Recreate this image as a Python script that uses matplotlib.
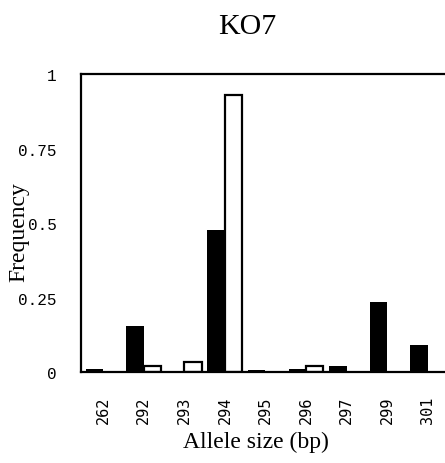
import matplotlib
matplotlib.use("Agg")
import matplotlib.pyplot as plt
import numpy as np

alleles = ["262", "292", "293", "294", "295", "296", "297", "299", "301"]
black_freq = [0.01, 0.155, 0.0, 0.476, 0.008, 0.01, 0.02, 0.234, 0.092]
white_freq = [0.0, 0.02, 0.035, 0.93, 0.0, 0.02, 0.0, 0.0, 0.0]
y_ticks = [0, 0.25, 0.5, 0.75, 1]
y_tick_labels = ["0", "0.25", "0.5", "0.75", "1"]

serif = "Liberation Serif"

fig = plt.figure(figsize=(4.45, 4.64), dpi=100)
ax = fig.add_axes([0.182, 0.196, 0.829, 0.642])

x = np.arange(len(alleles))
w = 0.43
ax.bar(x - w / 2, black_freq, width=w, color="black", edgecolor="black", linewidth=0)
white_x = [xi + w / 2 for xi, v in zip(x, white_freq) if v > 0]
white_v = [v for v in white_freq if v > 0]
ax.bar(white_x, white_v, width=w, color="white", edgecolor="black", linewidth=1.6)

ax.set_xlim(-0.55, 8.55)
ax.set_ylim(0, 1)
for s in ax.spines.values():
    s.set_linewidth(1.6)
    s.set_color("black")

ax.set_xticks(x)
ax.set_xticklabels(alleles, rotation=90, family="DejaVu Sans Mono", fontsize=11)
ax.set_yticks(y_ticks)
ax.set_yticklabels(y_tick_labels, family="Liberation Mono", fontsize=11.5)
ax.tick_params(axis="x", length=0, pad=17)
ax.tick_params(axis="y", length=0, pad=17.5)

ax.set_ylabel("Frequency", family=serif, fontsize=17)
ax.yaxis.set_label_coords(-0.14, 0.473)

fig.text(0.575, 1 - 448 / 464, "Allele size (bp)", family=serif, fontsize=17,
         ha="center", va="baseline")
fig.text(0.555, 1 - 34 / 464, "KO7", family=serif, fontsize=21.5,
         ha="center", va="baseline")

fig.savefig("out.png", dpi=100)
